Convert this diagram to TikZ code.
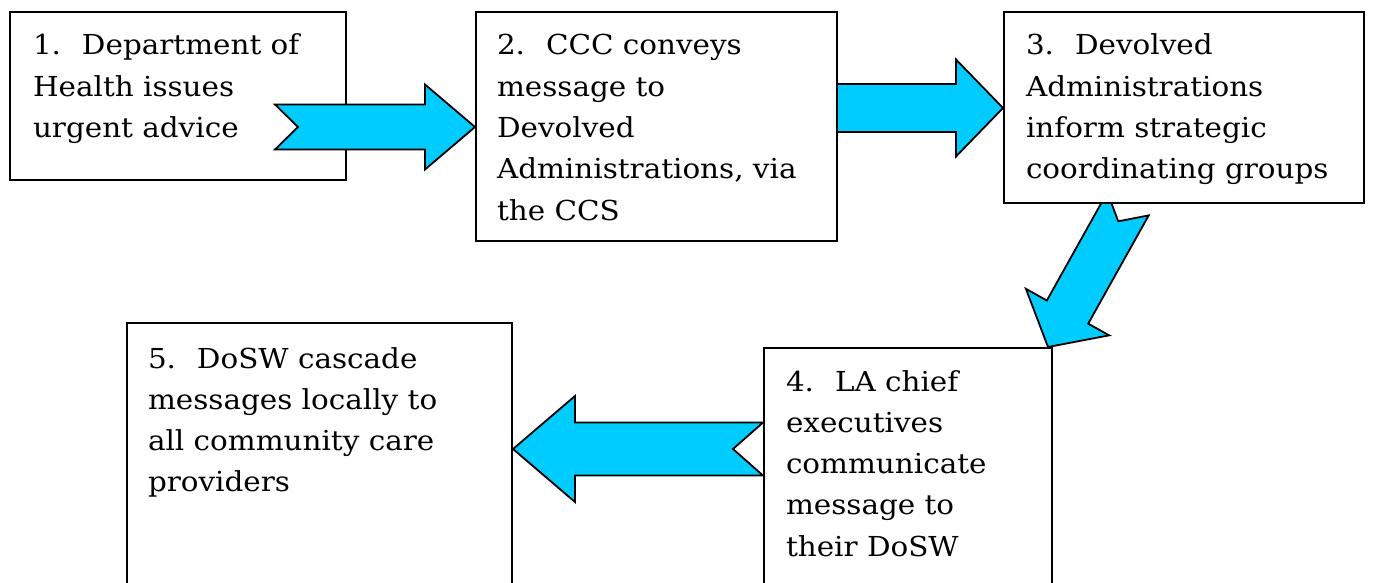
\documentclass[tikz,border=0pt]{standalone}
\usepackage{fontspec}
\setmainfont{DejaVu Serif}[FakeStretch=1.07]
\usetikzlibrary{calc}
\definecolor{arrowblue}{RGB}{0,204,255}
\newcommand{\num}[1]{\makebox[49pt][l]{#1}}
\tikzset{
  box/.style={draw=black, fill=white, line width=2pt, rectangle, inner sep=0pt, outer sep=0pt, anchor=north west},
  txt/.style={inner sep=0pt, outer sep=0pt, anchor=base west, font=\fontsize{27.5pt}{41.3pt}\selectfont},
  blockarrow/.style={draw=black, fill=arrowblue, line width=1.8pt, line join=miter},
  pics/notched/.style n args={5}{code={
    % #1 length, #2 shaft half width, #3 head half width, #4 head length, #5 notch depth
    \path[blockarrow] (0,0) -- (-#4,#3) -- (-#4,#2) -- (-#1,#2) -- (-#1+#5,0)
       -- (-#1,-#2) -- (-#4,-#2) -- (-#4,-#3) -- cycle;
  }}
}
\newcommand{\lines}[1]{\parbox[t]{420pt}{\raggedright #1}}
\begin{document}
\begin{tikzpicture}[x=1pt,y=-1pt]
\useasboundingbox[fill=white] (0,0) rectangle (1373,583);
% box 1 and arrow 1
\node[box, minimum width=336pt, minimum height=168pt] (b1) at (10,12) {};
\node[txt] (t1) at ($(b1.north west)+(23,43)$) {\lines{\num{1.}Department of\\Health issues\\urgent advice}};
\coordinate (a1) at (475,127);
\pic at (a1) {notched={200}{22.5}{42.5}{50}{23}};
% arrow 2 (tail hidden under box 2)
\coordinate (a2) at (1003,108);
\pic at (a2) {notched={200}{24}{48.5}{47}{23}};
% box 2
\node[box, minimum width=361pt, minimum height=229pt] (b2) at (476,12) {};
\node[txt] (t2) at ($(b2.north west)+(21,43)$) {\lines{\num{2.}CCC conveys\\message to\\Devolved\\Administrations, via\\the CCS}};
% box 4
\node[box, minimum width=288pt, minimum height=260pt] (b4) at (764,348) {};
\node[txt] (t4) at ($(b4.north west)+(22,43)$) {\lines{\num{4.}LA chief\\executives\\communicate\\message to\\their DoSW}};
% arrow 3 (tail hidden under box 3)
\coordinate (a3) at (1048,347);
\pic[rotate=240.8] at (a3) {notched={164}{23.7}{47.7}{40}{20}};
% box 3
\node[box, minimum width=360pt, minimum height=191pt] (b3) at (1004,12) {};
\node[txt] (t3) at ($(b3.north west)+(22,43)$) {\lines{\num{3.}Devolved\\Administrations\\inform strategic\\coordinating groups}};
% box 5
\node[box, minimum width=385pt, minimum height=290pt] (b5) at (127,323) {};
\node[txt] (t5) at ($(b5.north west)+(21,45)$) {\lines{\num{5.}DoSW cascade\\messages locally to\\all community care\\providers}};
% arrow 4
\coordinate (a4) at (513,449);
\pic[rotate=180] at (a4) {notched={250}{26.5}{53}{62}{30}};
\end{tikzpicture}
\end{document}
